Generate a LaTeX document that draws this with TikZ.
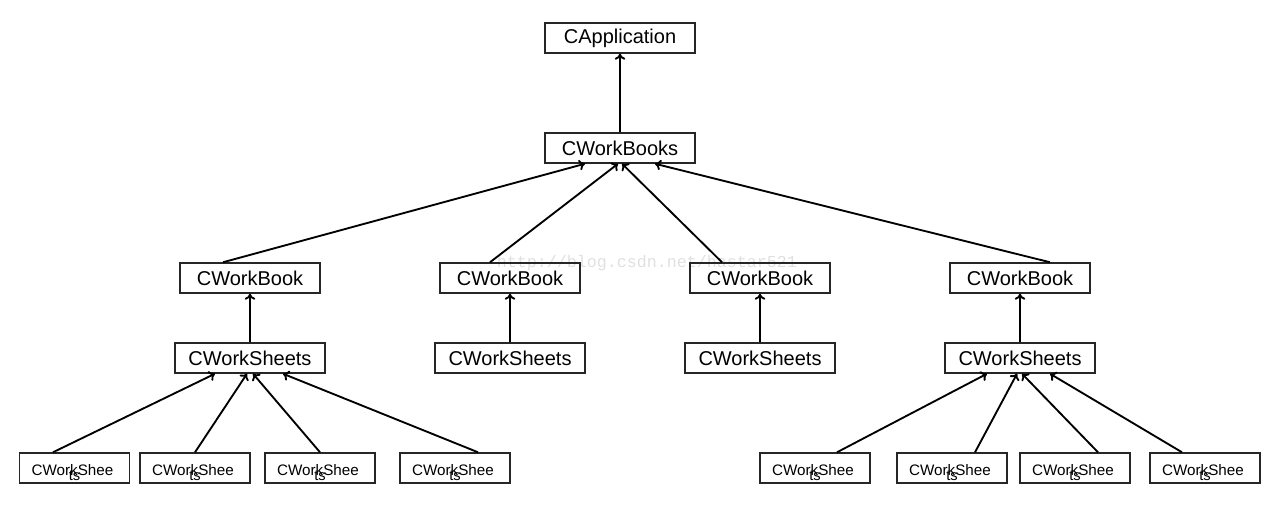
\documentclass[tikz,border=0pt]{standalone}
\usepackage{fontspec}
\setmainfont{Liberation Sans}
\newfontfamily\wmfont{Liberation Mono}
\usetikzlibrary{arrows.meta,calc}
\begin{document}
\begin{tikzpicture}[x=0.75pt,y=-0.75pt,
  basebox/.style={draw=black!85, line width=1.1pt, fill=none, inner sep=0pt, minimum height=22.5pt},
  topbox/.style={basebox, minimum width=112.5pt, font=\fontsize{15}{17}\selectfont},
  bookbox/.style={basebox, minimum width=105pt, font=\fontsize{15}{17}\selectfont},
  sheetbox/.style={basebox, minimum width=112.5pt, font=\fontsize{15}{17}\selectfont},
  leafbox/.style={draw=black!85, line width=1.1pt, inner sep=0pt, minimum width=82.5pt, minimum height=22.5pt},
  leaftext/.style={inner sep=0pt, font=\fontsize{11.4}{13}\selectfont},
  overflow/.style={inner sep=0pt, font=\fontsize{11}{13}\selectfont},
  link/.style={line width=1.4pt, -{To[length=4.5pt,width=8pt]}},
  watermark/.style={text=black!12, font=\wmfont\fontsize{12.5}{14}\selectfont}
]
\useasboundingbox (0,0) rectangle (1277,504);
\node[watermark] (wm) at (647,263) {http://blog.csdn.net/hastar521};

\node[topbox] (app) at (620,38) {CApplication};
\node[topbox] (books) at (620,148) {CWorkBooks};

\node[bookbox] (b1) at (250,278) {CWorkBook};
\node[bookbox] (b2) at (510,278) {CWorkBook};
\node[bookbox] (b3) at (760,278) {CWorkBook};
\node[bookbox] (b4) at (1020,278) {CWorkBook};

\node[sheetbox] (s1) at (250,358) {CWorkSheets};
\node[sheetbox] (s2) at (510,358) {CWorkSheets};
\node[sheetbox] (s3) at (760,358) {CWorkSheets};
\node[sheetbox] (s4) at (1020,358) {CWorkSheets};

\foreach \n/\x in {l1/74.5,l2/195,l3/320,l4/455,l5/815,l6/952,l7/1075,l8/1205}{
  \node[leafbox] (\n) at (\x,468) {};
  \node[leaftext] (\n w) at (\x-2,470.5) {CWorkShee};
  \node[overflow] (\n t) at (\x,476) {ts};
}

\draw[link] (books) -- (app);

\draw[link] ($(b1.north)+(-27,0)$) -- ($(books.south)+(-35,0)$);
\draw[link] ($(b2.north)+(-20,0)$) -- ($(books.south)+(-2,0)$);
\draw[link] ($(b3.north)+(-38,0)$) -- ($(books.south)+(2,0)$);
\draw[link] ($(b4.north)+(30,0)$) -- ($(books.south)+(35,0)$);

\draw[link] (s1) -- (b1);
\draw[link] (s2) -- (b2);
\draw[link] (s3) -- (b3);
\draw[link] (s4) -- (b4);

\draw[link] ($(l1.north)+(-21.5,0)$) -- ($(s1.south)+(-35,0)$);
\draw[link] ($(l2.north)+(0,0)$) -- ($(s1.south)+(-3,0)$);
\draw[link] ($(l3.north)+(0,0)$) -- ($(s1.south)+(3,0)$);
\draw[link] ($(l4.north)+(23,0)$) -- ($(s1.south)+(33,0)$);

\draw[link] ($(l5.north)+(22,0)$) -- ($(s4.south)+(-33,0)$);
\draw[link] ($(l6.north)+(23,0)$) -- ($(s4.south)+(-3,0)$);
\draw[link] ($(l7.north)+(23,0)$) -- ($(s4.south)+(2,0)$);
\draw[link] ($(l8.north)+(-23,0)$) -- ($(s4.south)+(30,0)$);
\end{tikzpicture}
\end{document}
